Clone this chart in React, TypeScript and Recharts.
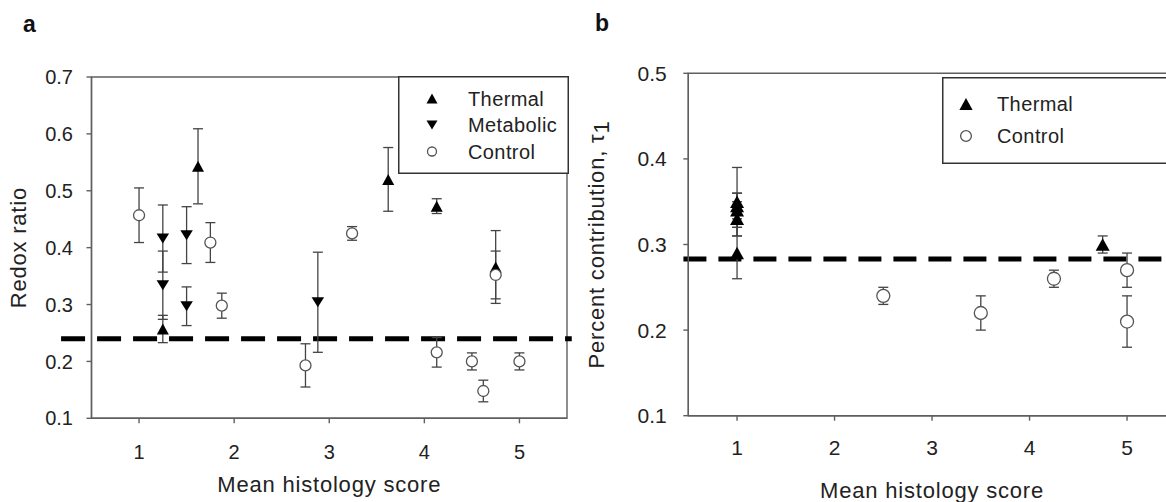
import {
  ScatterChart,
  Scatter,
  XAxis,
  YAxis,
  ErrorBar,
  ReferenceLine,
  ReferenceArea,
  Legend,
  Label,
} from "recharts";

const histTicks = [1, 2, 3, 4, 5];
const redoxTicks = [0.1, 0.2, 0.3, 0.4, 0.5, 0.6, 0.7];
const tauTicks = [0.1, 0.2, 0.3, 0.4, 0.5];

// panel a: redox ratio
const redoxThermalX = [1.25, 1.62, 3.62, 4.13, 4.75];
const redoxThermalY = [0.257, 0.543, 0.52, 0.473, 0.366];
const redoxThermalErr = [0.024, 0.066, 0.056, 0.013, 0.064];

const redoxMetabolicX = [1.25, 1.25, 1.5, 1.5, 2.88];
const redoxMetabolicY = [0.416, 0.334, 0.422, 0.297, 0.304];
const redoxMetabolicErr = [0.059, 0.06, 0.05, 0.034, 0.088];

const redoxControlX = [1.0, 1.75, 1.87, 2.75, 3.24, 4.13, 4.5, 4.62, 4.75, 5.0];
const redoxControlY = [0.457, 0.409, 0.298, 0.193, 0.425, 0.216, 0.2, 0.148, 0.352, 0.2];
const redoxControlErr = [0.048, 0.035, 0.022, 0.038, 0.012, 0.026, 0.015, 0.019, 0.042, 0.015];

const redoxCutoff = 0.24;

// panel b: percent contribution tau1
const tauThermalX = [1, 1, 1, 1, 1, 4.75];
const tauThermalY = [0.35, 0.345, 0.34, 0.33, 0.29, 0.3];
const tauThermalErr = [0.04, 0.015, 0.02, 0.02, 0.03, 0.01];

const tauControlX = [2.5, 3.5, 4.25, 5, 5];
const tauControlY = [0.24, 0.22, 0.26, 0.27, 0.21];
const tauControlErr = [0.01, 0.02, 0.01, 0.02, 0.03];

const tauCutoff = 0.283;

const zip = (xs: number[], ys: number[], es: number[]) =>
  xs.map((x, i) => ({ x, y: ys[i], err: es[i] }));

const FONT = "'Liberation Sans', Arial, sans-serif";
const AXIS = "#5f5f5f";
const TEXT = "#222";

function UpTri({ cx, cy, w = 12, h = 11 }: any) {
  return (
    <polygon
      points={`${cx},${cy - h / 2} ${cx + w / 2},${cy + h / 2} ${cx - w / 2},${cy + h / 2}`}
      fill="#000"
    />
  );
}

function DownTri({ cx, cy, w = 12.5, h = 10 }: any) {
  return (
    <polygon
      points={`${cx - w / 2},${cy - h / 2} ${cx + w / 2},${cy - h / 2} ${cx},${cy + h / 2}`}
      fill="#000"
    />
  );
}

function OpenCircle({ cx, cy, r = 5.5 }: any) {
  return <circle cx={cx} cy={cy} r={r} fill="#fff" stroke="#555" strokeWidth={1.3} />;
}

function xTitle(dy: number) {
  return (props: any) => {
    const vb = props.viewBox;
    return (
      <text
        x={vb.x + vb.width / 2}
        y={vb.y + dy}
        textAnchor="middle"
        fontSize={22}
        letterSpacing={0.8}
        fill={TEXT}
        fontFamily={FONT}
      >
        Mean histology score
      </text>
    );
  };
}

function yTitle(dx: number, sub: boolean) {
  return (props: any) => {
    const vb = props.viewBox;
    const cx = vb.x + dx;
    const cy = vb.y + vb.height / 2;
    return (
      <text
        x={cx}
        y={cy}
        transform={`rotate(-90 ${cx} ${cy})`}
        textAnchor="middle"
        dominantBaseline="central"
        fontSize={22}
        letterSpacing={0.8}
        fill={TEXT}
        fontFamily={FONT}
      >
        {sub ? (
          <>
            <tspan>Percent contribution, τ</tspan>
            <tspan dy={5}>1</tspan>
          </>
        ) : (
          "Redox ratio"
        )}
      </text>
    );
  };
}

function LegendBox({
  items,
  w,
  h,
  mx,
  tx,
  y0,
  step,
  scale,
}: {
  items: { name: string; kind: string }[];
  w: number;
  h: number;
  mx: number;
  tx: number;
  y0: number;
  step: number;
  scale: number;
}) {
  return (
    <svg width={w} height={h} style={{ display: "block" }}>
      <rect x={0.75} y={0.75} width={w - 1.5} height={h - 1.5} fill="#fff" stroke="#333" strokeWidth={1.5} />
      {items.map((it, i) => {
        const cy = y0 + i * step;
        return (
          <g key={it.name}>
            {it.kind === "up" && <UpTri cx={mx} cy={cy} w={11 * scale} h={10 * scale} />}
            {it.kind === "down" && <DownTri cx={mx} cy={cy} w={11 * scale} h={9 * scale} />}
            {it.kind === "circle" && <OpenCircle cx={mx} cy={cy} r={4.5 * scale} />}
            <text x={tx} y={cy} dominantBaseline="central" fontSize={20} letterSpacing={0.4} fill={TEXT} fontFamily={FONT}>
              {it.name}
            </text>
          </g>
        );
      })}
    </svg>
  );
}

function PanelA() {
  return (
    <ScatterChart width={600} height={502} margin={{ top: 77, right: 33, bottom: 53.7, left: 31.5 }}>
      <XAxis
        type="number"
        dataKey="x"
        domain={[0.5, 5.5]}
        ticks={histTicks}
        allowDataOverflow
        height={30}
        stroke={AXIS}
        strokeWidth={1.4}
        tickSize={5}
        tickMargin={21}
        tick={{ fontSize: 20, fill: TEXT, fontFamily: FONT }}
      >
        <Label content={xTitle(74)} />
      </XAxis>
      <YAxis
        type="number"
        dataKey="y"
        domain={[0.1, 0.7]}
        ticks={redoxTicks}
        allowDataOverflow
        width={60}
        stroke={AXIS}
        strokeWidth={1.4}
        tickSize={5}
        tickMargin={13.5}
        tickFormatter={(v) => Number(v).toFixed(1)}
        tick={{ fontSize: 20, fill: TEXT, fontFamily: FONT }}
      >
        <Label content={yTitle(-12.5, false)} />
      </YAxis>
      <ReferenceArea x1={0.5} x2={5.5} y1={0.1} y2={0.7} fill="none" stroke={AXIS} strokeWidth={1.4} />
      <ReferenceLine
        segment={[
          { x: 0.18, y: redoxCutoff },
          { x: 5.55, y: redoxCutoff },
        ]}
        ifOverflow="visible"
        stroke="#000"
        strokeWidth={5}
        strokeDasharray="24 12"
      />
      <Scatter name="Thermal" data={zip(redoxThermalX, redoxThermalY, redoxThermalErr)} shape={(p: any) => <UpTri cx={p.cx} cy={p.cy} />} isAnimationActive={false}>
        <ErrorBar dataKey="err" direction="y" width={5} stroke="#444" strokeWidth={1.3} />
      </Scatter>
      <Scatter name="Metabolic" data={zip(redoxMetabolicX, redoxMetabolicY, redoxMetabolicErr)} shape={(p: any) => <DownTri cx={p.cx} cy={p.cy} />} isAnimationActive={false}>
        <ErrorBar dataKey="err" direction="y" width={5} stroke="#444" strokeWidth={1.3} />
      </Scatter>
      <Scatter name="Control" data={zip(redoxControlX, redoxControlY, redoxControlErr)} shape={(p: any) => <OpenCircle cx={p.cx} cy={p.cy} />} isAnimationActive={false}>
        <ErrorBar dataKey="err" direction="y" width={5} stroke="#444" strokeWidth={1.3} />
      </Scatter>
      <Legend
        layout="vertical"
        align="center"
        verticalAlign="middle"
        wrapperStyle={{ left: 397.5, top: 76, width: 171, height: 98 }}
        content={() => (
          <LegendBox
            items={[
              { name: "Thermal", kind: "up" },
              { name: "Metabolic", kind: "down" },
              { name: "Control", kind: "circle" },
            ]}
            w={171}
            h={98}
            mx={34}
            tx={70}
            y0={22.5}
            step={26.5}
            scale={1}
          />
        )}
      />
    </ScatterChart>
  );
}

function PanelB() {
  return (
    <ScatterChart width={600} height={502} margin={{ top: 73.3, right: 4.2, bottom: 56.3, left: 48.3 }}>
      <XAxis
        type="number"
        dataKey="x"
        domain={[0.5, 5.5]}
        ticks={histTicks}
        allowDataOverflow
        height={30}
        stroke={AXIS}
        strokeWidth={1.4}
        tickSize={5}
        tickMargin={19}
        tick={{ fontSize: 21, fill: TEXT, fontFamily: FONT }}
      >
        <Label content={xTitle(82)} />
      </XAxis>
      <YAxis
        type="number"
        dataKey="y"
        domain={[0.1, 0.5]}
        ticks={tauTicks}
        allowDataOverflow
        width={60}
        stroke={AXIS}
        strokeWidth={1.4}
        tickSize={5}
        tickMargin={16.5}
        tickFormatter={(v) => Number(v).toFixed(1)}
        tick={{ fontSize: 21, fill: TEXT, fontFamily: FONT }}
      >
        <Label content={yTitle(-32, true)} />
      </YAxis>
      <ReferenceArea x1={0.5} x2={5.5} y1={0.1} y2={0.5} fill="none" stroke={AXIS} strokeWidth={1.4} />
      <ReferenceLine
        segment={[
          { x: 0.45, y: tauCutoff },
          { x: 5.6, y: tauCutoff },
        ]}
        ifOverflow="visible"
        stroke="#000"
        strokeWidth={5}
        strokeDasharray="23 12"
      />
      <Scatter name="Control" data={zip(tauControlX, tauControlY, tauControlErr)} shape={(p: any) => <OpenCircle cx={p.cx} cy={p.cy} r={6.5} />} isAnimationActive={false}>
        <ErrorBar dataKey="err" direction="y" width={5} stroke="#444" strokeWidth={1.3} />
      </Scatter>
      <Scatter name="Thermal" data={zip(tauThermalX, tauThermalY, tauThermalErr)} shape={(p: any) => <UpTri cx={p.cx} cy={p.cy} w={14} h={12.5} />} isAnimationActive={false}>
        <ErrorBar dataKey="err" direction="y" width={5} stroke="#444" strokeWidth={1.3} />
      </Scatter>
      <Legend
        layout="vertical"
        align="center"
        verticalAlign="middle"
        wrapperStyle={{ left: 362, top: 77, width: 240, height: 87 }}
        content={() => (
          <LegendBox
            items={[
              { name: "Thermal", kind: "up" },
              { name: "Control", kind: "circle" },
            ]}
            w={240}
            h={87}
            mx={24}
            tx={55}
            y0={27}
            step={32}
            scale={1.2}
          />
        )}
      />
    </ScatterChart>
  );
}

export default function App() {
  return (
    <div
      style={{
        position: "absolute",
        left: 0,
        top: 0,
        width: 1166,
        height: 502,
        overflow: "hidden",
        background: "#fff",
        fontFamily: FONT,
      }}
    >
      <div style={{ position: "absolute", left: 0, top: 0 }}>
        <PanelA />
      </div>
      <div style={{ position: "absolute", left: 580, top: 0 }}>
        <PanelB />
      </div>
      <div style={{ position: "absolute", left: 23, top: 11, fontSize: 23, fontWeight: "bold", color: "#111" }}>a</div>
      <div style={{ position: "absolute", left: 595, top: 10, fontSize: 23, fontWeight: "bold", color: "#111" }}>b</div>
    </div>
  );
}
